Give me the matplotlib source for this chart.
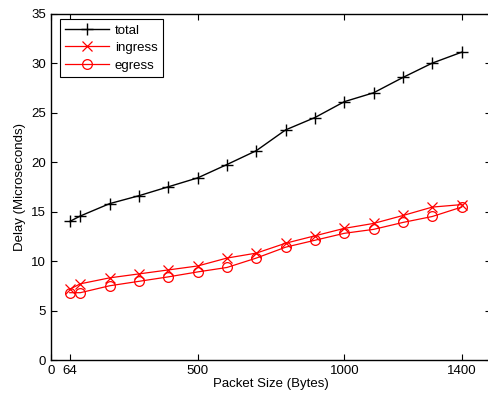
import matplotlib
matplotlib.use("Agg")
import matplotlib.pyplot as plt

plt.rcParams["font.family"] = ["Liberation Sans", "DejaVu Sans"]

# packet sizes (bytes)
sizes = [64, 100, 200, 300, 400, 500, 600, 700, 800, 900, 1000, 1100, 1200, 1300, 1400]

# delays in microseconds
total = [14.0, 14.55, 15.8, 16.6, 17.5, 18.4, 19.75, 21.15, 23.25, 24.5, 26.1, 27.0, 28.55, 30.0, 31.1]
ingress = [7.15, 7.7, 8.3, 8.7, 9.1, 9.5, 10.3, 10.8, 11.8, 12.55, 13.3, 13.8, 14.6, 15.45, 15.7]
egress = [6.8, 6.8, 7.5, 7.95, 8.4, 8.9, 9.35, 10.3, 11.4, 12.1, 12.8, 13.2, 13.9, 14.5, 15.45]

xticks = [0, 64, 500, 1000, 1400]

fig = plt.figure(figsize=(4.88, 3.95), dpi=100)
ax = fig.add_axes([0.1045, 0.0886, 0.9016, 0.877])

ax.plot(sizes, total, "k-", marker="+", ms=9, mew=1.0, lw=1.0, label="total")
ax.plot(sizes, ingress, "-", color="red", marker="x", ms=7, mew=0.9, lw=0.9, label="ingress")
ax.plot(sizes, egress, "-", color="red", marker="o", ms=7, mew=0.9, mfc="none", lw=0.9, label="egress")

ax.set_xlim(0, 1500)
ax.set_ylim(0, 35)
ax.set_xticks(xticks)
ax.set_yticks(range(0, 36, 5))
ax.tick_params(direction="in", top=True, right=True, length=4, labelsize=9.5, width=0.8)
for s in ax.spines.values():
    s.set_linewidth(1.0)

ax.set_xlabel("Packet Size (Bytes)", fontsize=9.5, labelpad=1)
ax.set_ylabel("Delay (Microseconds)", fontsize=9.5, labelpad=4)

# legend box roughly at (60,19)-(162,74) px
leg = ax.legend(loc="upper left", bbox_to_anchor=(60 / 488, 1 - 19 / 395),
                bbox_transform=fig.transFigure, borderaxespad=0,
                fontsize=9.5, fancybox=False, edgecolor="black",
                framealpha=1, handlelength=3.3, borderpad=0.4,
                labelspacing=0.4, handletextpad=0.45)
leg.get_frame().set_linewidth(0.8)

fig.savefig("out.png", dpi=100)
